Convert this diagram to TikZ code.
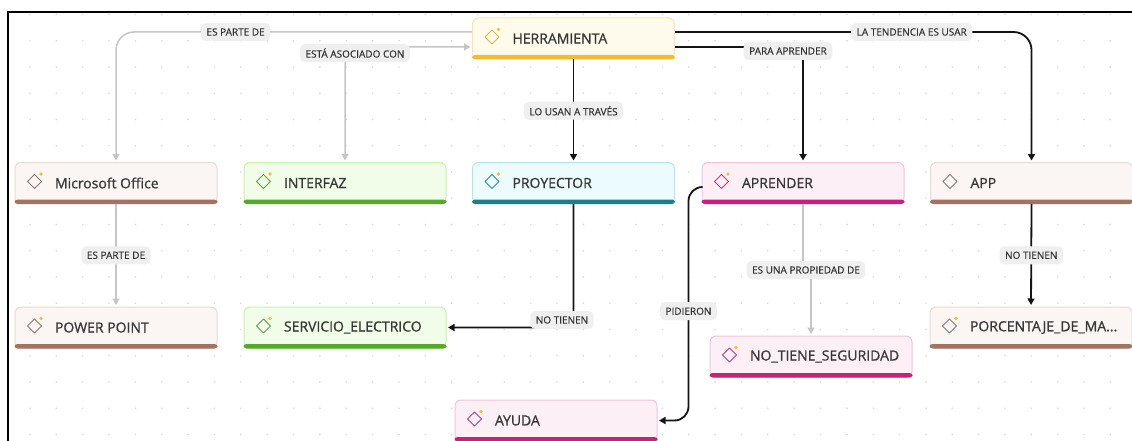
\documentclass[tikz,border=0pt]{standalone}
\usepackage{fontspec}
\setmainfont{Open Sans}
\newfontface\nodefont{Open Sans}[FakeBold=0.9]
\newfontface\lblfont{Open Sans}[FakeBold=0.4]
\usetikzlibrary{arrows.meta}
\definecolor{txt}{HTML}{383838}
\definecolor{lbltxt}{HTML}{333333}
\definecolor{lblfill}{HTML}{EFEFEF}
\definecolor{gline}{HTML}{C6C6C6}
\definecolor{bline}{HTML}{141414}
\definecolor{dotc}{HTML}{DADADA}
\definecolor{ydot}{HTML}{F2C230}
% yellow
\definecolor{yfill}{HTML}{FFFBEC}\definecolor{ybord}{HTML}{F8E6AE}\definecolor{yband}{HTML}{EEBE2E}\definecolor{yicon}{HTML}{D9B53C}
% brown
\definecolor{nfill}{HTML}{FBF6F3}\definecolor{nbord}{HTML}{E9DAD2}\definecolor{nband}{HTML}{A27262}\definecolor{nicon}{HTML}{8C7B72}
% green
\definecolor{gfill}{HTML}{F2FDE9}\definecolor{gbord}{HTML}{C9F1A9}\definecolor{gband}{HTML}{58A82A}\definecolor{gicon}{HTML}{62A043}
% teal
\definecolor{tfill}{HTML}{ECFBFD}\definecolor{tbord}{HTML}{B3E7F0}\definecolor{tband}{HTML}{1B7F8E}\definecolor{ticon}{HTML}{2A8A9A}
% pink
\definecolor{pfill}{HTML}{FDEFF6}\definecolor{pbord}{HTML}{F4C3DD}\definecolor{pband}{HTML}{C8217C}\definecolor{picon}{HTML}{B0428C}
\newcommand\nodetxt[1]{\hbox to 202pt{\hskip40pt #1\hfil}}
\newcommand\bandicon[4]{% name, band color, icon color, dot(1/0)
  \fill[#2,rounded corners=3pt] ([yshift=4.5pt]#1.south west) rectangle (#1.south east);
  \coordinate (#1-ic) at ([xshift=20pt,yshift=1.5pt]#1.west);
  \draw[#3,line width=1pt,line join=round] ([xshift=-7pt]#1-ic) -- ([yshift=7pt]#1-ic) -- ([xshift=7pt]#1-ic) -- ([yshift=-7pt]#1-ic) -- cycle;
  \ifnum#4=1 \fill[ydot] ([xshift=6.5pt,yshift=7.5pt]#1-ic) circle (1.8pt);\fi
}
\tikzset{
  box/.style={rectangle, rounded corners=6pt, minimum width=202pt, minimum height=41pt,
    inner sep=0pt, line width=1pt, font=\nodefont\fontsize{14}{16}\selectfont, text=txt},
  ybox/.style={box, fill=yfill, draw=ybord},
  nbox/.style={box, fill=nfill, draw=nbord},
  gbox/.style={box, fill=gfill, draw=gbord},
  tbox/.style={box, fill=tfill, draw=tbord},
  pbox/.style={box, fill=pfill, draw=pbord},
  lbl/.style={fill=lblfill, rounded corners=5pt, inner xsep=5.5pt, inner ysep=0pt,
    minimum height=18pt, font=\lblfont\fontsize{10}{12}\selectfont, text=lbltxt},
  gconn/.style={draw=gline, line width=1.5pt, -{Triangle[length=6.5pt,width=7pt]}, shorten >=1.5pt},
  bconn/.style={draw=bline, line width=1.8pt, -{Triangle[length=6.5pt,width=7pt]}, shorten >=1.5pt},
}
\begin{document}
\begin{tikzpicture}[x=1pt,y=-1pt]
\useasboundingbox (0,0) rectangle (1132,441);
\fill[white] (0,0) rectangle (1132,441);
\foreach \i in {0,...,41} \foreach \j in {0,...,16}
  \fill[dotc] ({30+26.35*\i},{14.5+26.25*\j}) circle (0.9pt);
\draw[line width=2pt] (7.5,441) -- (7.5,12.5) -- (1132,12.5);

\node[ybox] (herr) at (573.5,38.5) {\nodetxt{HERRAMIENTA}};
\node[nbox] (ms) at (116,183) {\nodetxt{Microsoft Office}};
\node[gbox] (interfaz) at (345,183) {\nodetxt{INTERFAZ}};
\node[tbox] (proy) at (573.5,183) {\nodetxt{PROYECTOR}};
\node[pbox] (aprender) at (803,183) {\nodetxt{APRENDER}};
\node[nbox] (app) at (1031.5,183) {\nodetxt{APP}};
\node[nbox] (pp) at (116,327.5) {\nodetxt{POWER POINT}};
\node[gbox] (serv) at (345,327.5) {\nodetxt{SERVICIO\_ELECTRICO}};
\node[nbox] (porc) at (1031,327.5) {\nodetxt{PORCENTAJE\_DE\_MA...}};
\node[pbox] (nots) at (811,356.5) {\nodetxt{NO\_TIENE\_SEGURIDAD}};
\node[pbox] (ayuda) at (556,420.5) {\nodetxt{AYUDA}};

\bandicon{herr}{yband}{yicon}{1}
\bandicon{ms}{nband}{nicon}{1}
\bandicon{interfaz}{gband}{gicon}{1}
\bandicon{proy}{tband}{ticon}{1}
\bandicon{aprender}{pband}{picon}{1}
\bandicon{app}{nband}{nicon}{0}
\bandicon{pp}{nband}{nicon}{1}
\bandicon{serv}{gband}{gicon}{1}
\bandicon{porc}{nband}{nicon}{1}
\bandicon{nots}{pband}{picon}{1}
\bandicon{ayuda}{pband}{picon}{1}

\draw[gconn, rounded corners=18pt] ([yshift=6.5pt]herr.west) -| node[lbl,pos=0.332] (l1) {ES PARTE DE} (ms.north);
\draw[gconn, {Triangle[length=6.5pt,width=7pt]}-{Triangle[length=6.5pt,width=7pt]}, shorten <=1.5pt, rounded corners=14pt]
  ([yshift=-8.5pt]herr.west) -| node[lbl,pos=0.5,xshift=10pt,yshift=-6pt] (l2) {ESTÁ ASOCIADO CON} (interfaz.north);
\draw[bconn] (herr.south) -- node[lbl] (l3) {LO USAN A TRAVÉS} (proy.north);
\draw[bconn, rounded corners=14pt] ([yshift=-8.5pt]herr.east) -| node[lbl,pos=0.5,xshift=-15pt,yshift=-4pt] (l4) {PARA APRENDER} (aprender.north);
\draw[bconn, rounded corners=18pt] ([yshift=6.5pt]herr.east) -| node[lbl,pos=0.332] (l5) {LA TENDENCIA ES USAR} (app.north);
\draw[gconn] (ms.south) -- node[lbl] (l6) {ES PARTE DE} (pp.north);
\draw[bconn, rounded corners=14pt] (proy.south) |- node[lbl,pos=0.5,xshift=-11.5pt,yshift=7.5pt] (l7) {NO TIENEN} (serv.east);
\node[lbl] (l8) at (806,270) {ES UNA PROPIEDAD DE};
\draw[draw=gline, line width=1.5pt] (aprender.south) -- (aprender.south |- l8.north);
\draw[gconn] (nots.north |- l8.south) -- (nots.north);
\draw[bconn] (app.south) -- node[lbl] (l9) {NO TIENEN} (porc.north);
\draw[bconn, rounded corners=14pt] ([yshift=-4pt]aprender.west) -- ++(-13,0) |- node[lbl,pos=0.266] (l10) {PIDIERON} (ayuda.east);
\end{tikzpicture}
\end{document}
